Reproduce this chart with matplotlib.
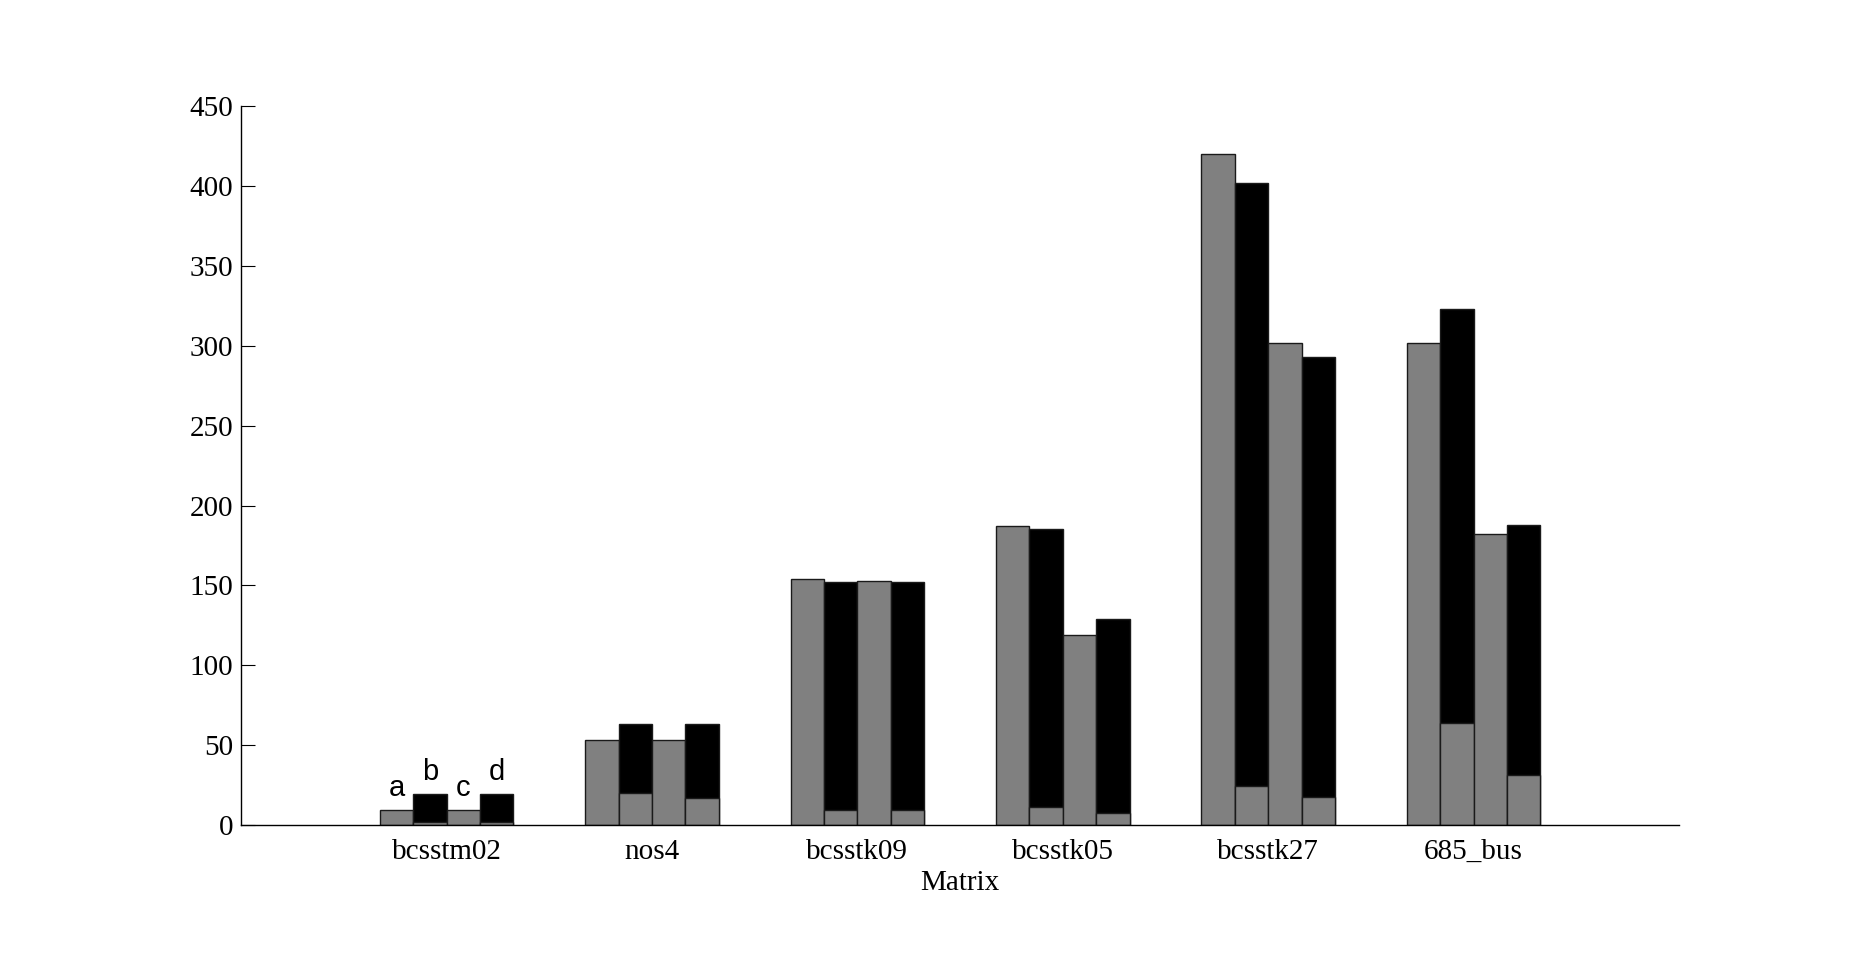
import matplotlib
matplotlib.use("Agg")
import matplotlib.pyplot as plt
import numpy as np

matrices = ["bcsstm02", "nos4", "bcsstk09", "bcsstk05", "bcsstk27", "685_bus"]
bar_labels = ["a", "b", "c", "d"]
# totals per bar (a, b, c, d)
total_a = [9, 53, 154, 187, 420, 302]
total_b = [19, 63, 152, 185, 402, 323]
total_c = [9, 53, 153, 119, 302, 182]
total_d = [19, 63, 152, 129, 293, 188]
# gray bottom portion of the stacked bars b and d
bottom_b = [2, 20, 9, 11, 24, 64]
bottom_d = [2, 16.5, 9, 7.5, 17.5, 31]
yticks = [0, 50, 100, 150, 200, 250, 300, 350, 400, 450]

gray = "#808080"
edge = "#1a1a1a"

fig = plt.figure(figsize=(18.56, 9.68), dpi=100)
ax = fig.add_axes([0.130, 0.148, 0.7746, 0.742])

x = np.arange(1, len(matrices) + 1)
w = 0.1625
offs = np.array([-1.5, -0.5, 0.5, 1.5]) * w

kw = dict(width=w, edgecolor=edge, linewidth=1.0)
ax.bar(x + offs[0], total_a, color=gray, **kw)
ax.bar(x + offs[1], total_b, color="black", **kw)
ax.bar(x + offs[1], bottom_b, color=gray, **kw)
ax.bar(x + offs[2], total_c, color=gray, **kw)
ax.bar(x + offs[3], total_d, color="black", **kw)
ax.bar(x + offs[3], bottom_d, color=gray, **kw)

firsts = [total_a[0], total_b[0], total_c[0], total_d[0]]
for lab, off, v in zip(bar_labels, offs, firsts):
    ax.text(x[0] + off, v + 5, lab, ha="center", va="bottom",
            fontsize=21, family="Liberation Sans")

ax.set_xlim(0, 7)
ax.set_ylim(0, 450)
ax.set_yticks(yticks)
ax.set_xticks(x)
ax.set_xticklabels(matrices)
for s in ["top", "right"]:
    ax.spines[s].set_visible(False)
ax.spines["left"].set_linewidth(1.0)
ax.spines["bottom"].set_linewidth(1.0)
ax.tick_params(axis="y", direction="in", length=10, width=0.8,
               labelsize=21, pad=6)
ax.tick_params(axis="x", length=0, labelsize=21, pad=10)
for t in ax.get_xticklabels() + ax.get_yticklabels():
    t.set_family("Liberation Serif")
ax.set_xlabel("Matrix", fontsize=21, family="Liberation Serif", labelpad=4)

fig.savefig("out.png", dpi=100, facecolor="white")
